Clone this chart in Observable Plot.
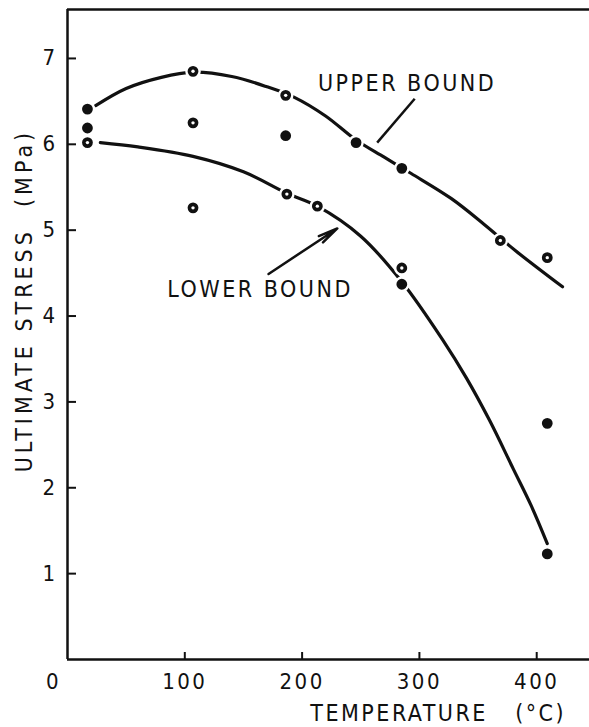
<!DOCTYPE html>
<html>
<head>
<meta charset="utf-8">
<script src="https://cdn.jsdelivr.net/npm/d3@7"></script>
<script src="https://cdn.jsdelivr.net/npm/@observablehq/plot@0.6"></script>
<style>
  html, body { margin: 0; padding: 0; background: #fff; }
  #chart svg text { letter-spacing: 2.5px; white-space: pre; }
</style>
</head>
<body>
<div id="chart"></div>
<script>
// Measured points (temperature °C, ultimate stress MPa, marker kind)
const ptTemp   = [17, 17, 17, 107, 107, 107, 186, 186, 187, 213, 246, 285, 285, 285, 369, 409, 409, 409];
const ptStress = [6.41, 6.19, 6.02, 6.85, 6.25, 5.26, 6.57, 6.10, 5.42, 5.28, 6.02, 5.72, 4.56, 4.37, 4.88, 4.68, 2.75, 1.23];
const ptKind   = ["filled","filled","ring","ring","ring","ring","ring","filled","ring","ring","filled","filled","ring","filled","ring","ring","filled","filled"];

// Upper bound curve
const upperTemp   = [24, 50, 80, 107, 140, 170, 193, 220, 246, 270, 293, 327, 355, 382, 422];
const upperStress = [6.45, 6.65, 6.78, 6.84, 6.79, 6.67, 6.55, 6.33, 6.05, 5.85, 5.66, 5.37, 5.07, 4.76, 4.34];

// Lower bound curve
const lowerTemp   = [28, 60, 107, 150, 187, 213, 250, 285, 320, 340, 360, 380, 395, 409];
const lowerStress = [6.02, 5.97, 5.86, 5.68, 5.43, 5.28, 4.93, 4.40, 3.72, 3.28, 2.78, 2.22, 1.80, 1.35];

// Axis ticks and labels
const xTicks = [0, 100, 200, 300, 400];
const yTicks = [1, 2, 3, 4, 5, 6, 7];
const xTitle = "TEMPERATURE   (°C)";
const yTitle = "ULTIMATE STRESS  (MPa)";
const annoText = ["UPPER BOUND", "LOWER BOUND"];

const points = ptTemp.map((t, i) => ({t, s: ptStress[i], kind: ptKind[i]}));
const upper = upperTemp.map((t, i) => ({t, s: upperStress[i]}));
const lower = lowerTemp.map((t, i) => ({t, s: lowerStress[i]}));

const ink = "#111";
const font = "'DejaVu Sans Condensed', 'DejaVu Sans', sans-serif";

const chart = Plot.plot({
  width: 589,
  height: 727,
  marginLeft: 67,
  marginTop: 9,
  marginBottom: 68,
  marginRight: 0,
  style: {fontFamily: font, fontSize: "22px", background: "#fff", color: ink, fontStretch: "condensed"},
  x: {domain: [0, 445]},
  y: {domain: [0, 7.57]},
  marks: [
    // frame lines: left, bottom, top
    Plot.ruleX([0], {stroke: ink, strokeWidth: 2.5}),
    Plot.ruleY([0], {stroke: ink, strokeWidth: 2.5}),
    Plot.ruleY([7.57], {stroke: ink, strokeWidth: 2.5}),
    // inward ticks
    Plot.tickX(xTicks.slice(1), {x: d => d, insetTop: 643, stroke: ink, strokeWidth: 2}),
    Plot.tickY(yTicks, {y: d => d, insetRight: 513, stroke: ink, strokeWidth: 2}),
    // tick labels
    Plot.axisX({ticks: xTicks.slice(1), tickSize: 0, tickPadding: 14, fontSize: 22, label: null}),
    Plot.axisX({ticks: [xTicks[0]], tickSize: 0, tickPadding: 14, fontSize: 22, label: null, dx: -14}),
    Plot.axisY({ticks: yTicks, tickSize: 0, tickPadding: 10, fontSize: 22, label: null}),
    // axis titles
    Plot.text([xTitle], {x: 316, y: -0.63, text: d => d, fontSize: 23, fill: ink, textAnchor: "middle"}),
    Plot.text([yTitle], {x: -36.7, y: 4.18, text: d => d, fontSize: 23, fill: ink, rotate: -90, textAnchor: "middle"}),
    // bound curves
    Plot.line(upper, {x: "t", y: "s", curve: "catmull-rom", stroke: ink, strokeWidth: 3.2}),
    Plot.line(lower, {x: "t", y: "s", curve: "catmull-rom", stroke: ink, strokeWidth: 3.2}),
    // markers with white halo (gaps in the curves)
    Plot.dot(points, {x: "t", y: "s", r: 6.6, fill: ink, stroke: "#fff", strokeWidth: 2.4}),
    Plot.dot(points.filter(d => d.kind === "ring"), {x: "t", y: "s", r: 1.7, fill: "#fff"}),
    // annotations
    Plot.text([annoText[0]], {x: 289.5, y: 6.71, text: d => d, fontSize: 23, fill: ink, textAnchor: "middle"}),
    Plot.text([annoText[1]], {x: 164.2, y: 4.31, text: d => d, fontSize: 23, fill: ink, textAnchor: "middle"}),
    Plot.link([0], {x1: 296, y1: 6.53, x2: 264, y2: 6.02, stroke: ink, strokeWidth: 2.5}),
    Plot.arrow([0], {x1: 171.4, y1: 4.49, x2: 230, y2: 5.02, stroke: ink, strokeWidth: 2.5, headLength: 12, headAngle: 22})
  ]
});
document.getElementById("chart").appendChild(chart);
// wider tracking on the vertical title, as in the reference
d3.select(chart).selectAll("text").filter(function() { return this.textContent === yTitle; })
  .style("letter-spacing", "4px");
</script>
</body>
</html>
